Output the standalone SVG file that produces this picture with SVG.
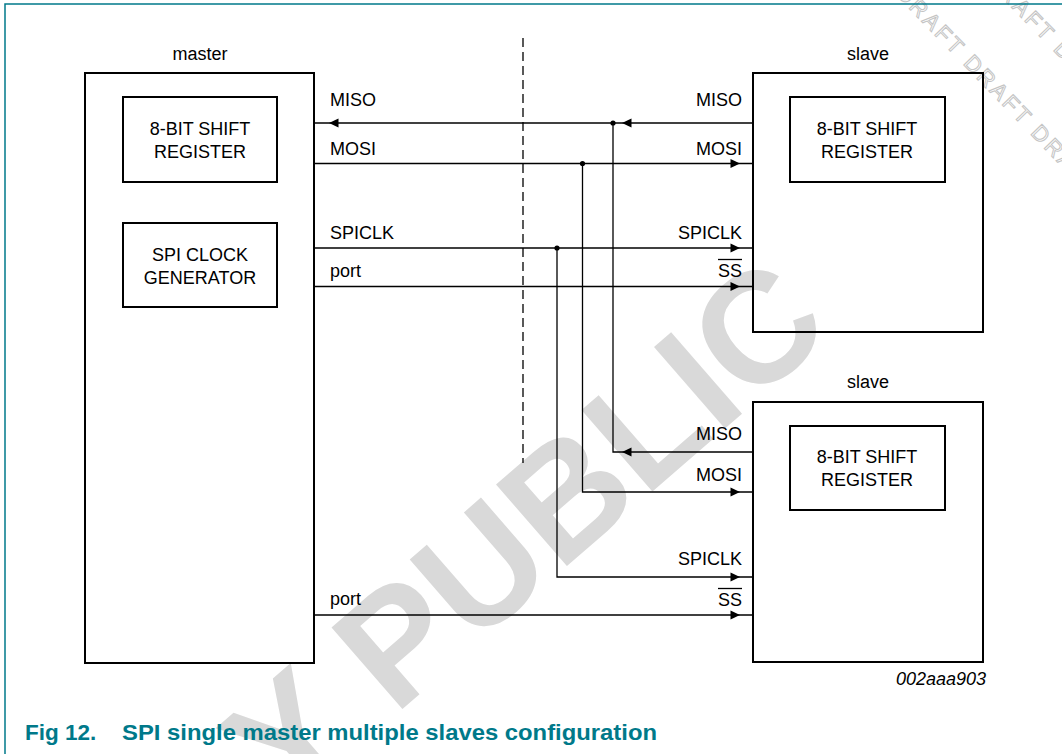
<svg xmlns="http://www.w3.org/2000/svg" width="1062" height="754" viewBox="0 0 1062 754">
<style>
.box{fill:none;stroke:#000;stroke-width:2}
.ln{fill:none;stroke:#000;stroke-width:1.3}
.ah{fill:#000}
.t{font-family:"Liberation Sans",Arial,sans-serif;font-size:18px;fill:#000}
.c{text-anchor:middle}
.r{text-anchor:end}
.wm{font-family:"Liberation Sans",Arial,sans-serif;font-weight:bold;fill:#d9d9d9}
.dr{font-family:"Liberation Sans",Arial,sans-serif;font-size:22px;fill:#fff;stroke:#c4c4c4;stroke-width:1}
</style>
<rect width="1062" height="754" fill="#fff"/>
<g id="watermark">
<text class="wm" font-size="157" text-anchor="middle" transform="translate(560,572) rotate(-41)">Y PUBLIC</text>
<text class="dr" transform="translate(895,-6) rotate(46)" letter-spacing="3">DRAFT DRAFT DRAFT</text>
<text class="dr" transform="translate(985,-20) rotate(46)" letter-spacing="3">DRAFT DRAFT</text>
</g>
<g id="frame">
<path d="M5,754 V4 H1062" fill="none" stroke="#00798a" stroke-width="1.5"/>
</g>
<g id="master">
<rect class="box" x="85" y="73" width="229" height="590"/>
<text class="t c" x="200" y="60">master</text>
</g>
<g id="master-shift">
<rect class="box" x="123" y="97" width="154" height="85"/>
<text class="t c" x="200" y="135">8-BIT SHIFT</text>
<text class="t c" x="200" y="158">REGISTER</text>
</g>
<g id="master-clock">
<rect class="box" x="123" y="223" width="154" height="84"/>
<text class="t c" x="200" y="261">SPI CLOCK</text>
<text class="t c" x="200" y="284">GENERATOR</text>
</g>
<g id="slave1">
<rect class="box" x="753" y="73" width="230" height="259"/>
<text class="t c" x="868" y="60">slave</text>
</g>
<g id="slave1-shift">
<rect class="box" x="790" y="97" width="155" height="85"/>
<text class="t c" x="867" y="135">8-BIT SHIFT</text>
<text class="t c" x="867" y="158">REGISTER</text>
</g>
<g id="slave2">
<rect class="box" x="753" y="402" width="230" height="260"/>
<text class="t c" x="868" y="388">slave</text>
</g>
<g id="slave2-shift">
<rect class="box" x="790" y="426" width="155" height="84"/>
<text class="t c" x="867" y="463">8-BIT SHIFT</text>
<text class="t c" x="867" y="486">REGISTER</text>
</g>
<g id="connectors">
<line class="ln" x1="523" y1="38" x2="523" y2="463" stroke-dasharray="9,5"/>
<line class="ln" x1="314" y1="123" x2="753" y2="123"/>
<line class="ln" x1="314" y1="163.5" x2="753" y2="163.5"/>
<line class="ln" x1="314" y1="248" x2="753" y2="248"/>
<line class="ln" x1="314" y1="286.5" x2="753" y2="286.5"/>
<line class="ln" x1="314" y1="615" x2="753" y2="615"/>
<path class="ln" d="M613,123 V452 H753"/>
<path class="ln" d="M582.5,163.5 V492 H753"/>
<path class="ln" d="M557,248 V577 H753"/>
<circle class="ah" cx="613" cy="123" r="2.6"/>
<circle class="ah" cx="582.5" cy="163.5" r="2.6"/>
<circle class="ah" cx="557" cy="248" r="2.6"/>
<polygon class="ah" points="329,123 338.5,118.5 338.5,127.5"/>
<polygon class="ah" points="622,123 631.5,118.5 631.5,127.5"/>
<polygon class="ah" points="622,452 631.5,447.5 631.5,456.5"/>
<polygon class="ah" points="740,163.5 730.5,159 730.5,168"/>
<polygon class="ah" points="740,248 730.5,243.5 730.5,252.5"/>
<polygon class="ah" points="740,286.5 730.5,282 730.5,291"/>
<polygon class="ah" points="740,492 730.5,487.5 730.5,496.5"/>
<polygon class="ah" points="740,577 730.5,572.5 730.5,581.5"/>
<polygon class="ah" points="740,615 730.5,610.5 730.5,619.5"/>
</g>
<g id="labels">
<text class="t" x="330" y="105.5">MISO</text>
<text class="t" x="330" y="155">MOSI</text>
<text class="t" x="330" y="238.5">SPICLK</text>
<text class="t" x="330" y="277">port</text>
<text class="t" x="330" y="605">port</text>
<text class="t r" x="742" y="105.5">MISO</text>
<text class="t r" x="742" y="155">MOSI</text>
<text class="t r" x="742" y="238.5">SPICLK</text>
<text class="t r" x="742" y="277">SS</text>
<line class="ln" x1="718" y1="259.5" x2="742" y2="259.5"/>
<text class="t r" x="742" y="440">MISO</text>
<text class="t r" x="742" y="481">MOSI</text>
<text class="t r" x="742" y="565">SPICLK</text>
<text class="t r" x="742" y="606">SS</text>
<line class="ln" x1="718" y1="588.5" x2="742" y2="588.5"/>
<text class="t r" x="986" y="685" font-style="italic" font-size="15.5">002aaa903</text>
</g>
<g id="caption" font-family="'Liberation Sans',Arial,sans-serif" font-weight="bold" font-size="22.5" fill="#00798a">
<text x="25" y="739.5">Fig 12.</text>
<text x="122" y="739.5" textLength="535" lengthAdjust="spacingAndGlyphs">SPI single master multiple slaves configuration</text>
</g>
</svg>
